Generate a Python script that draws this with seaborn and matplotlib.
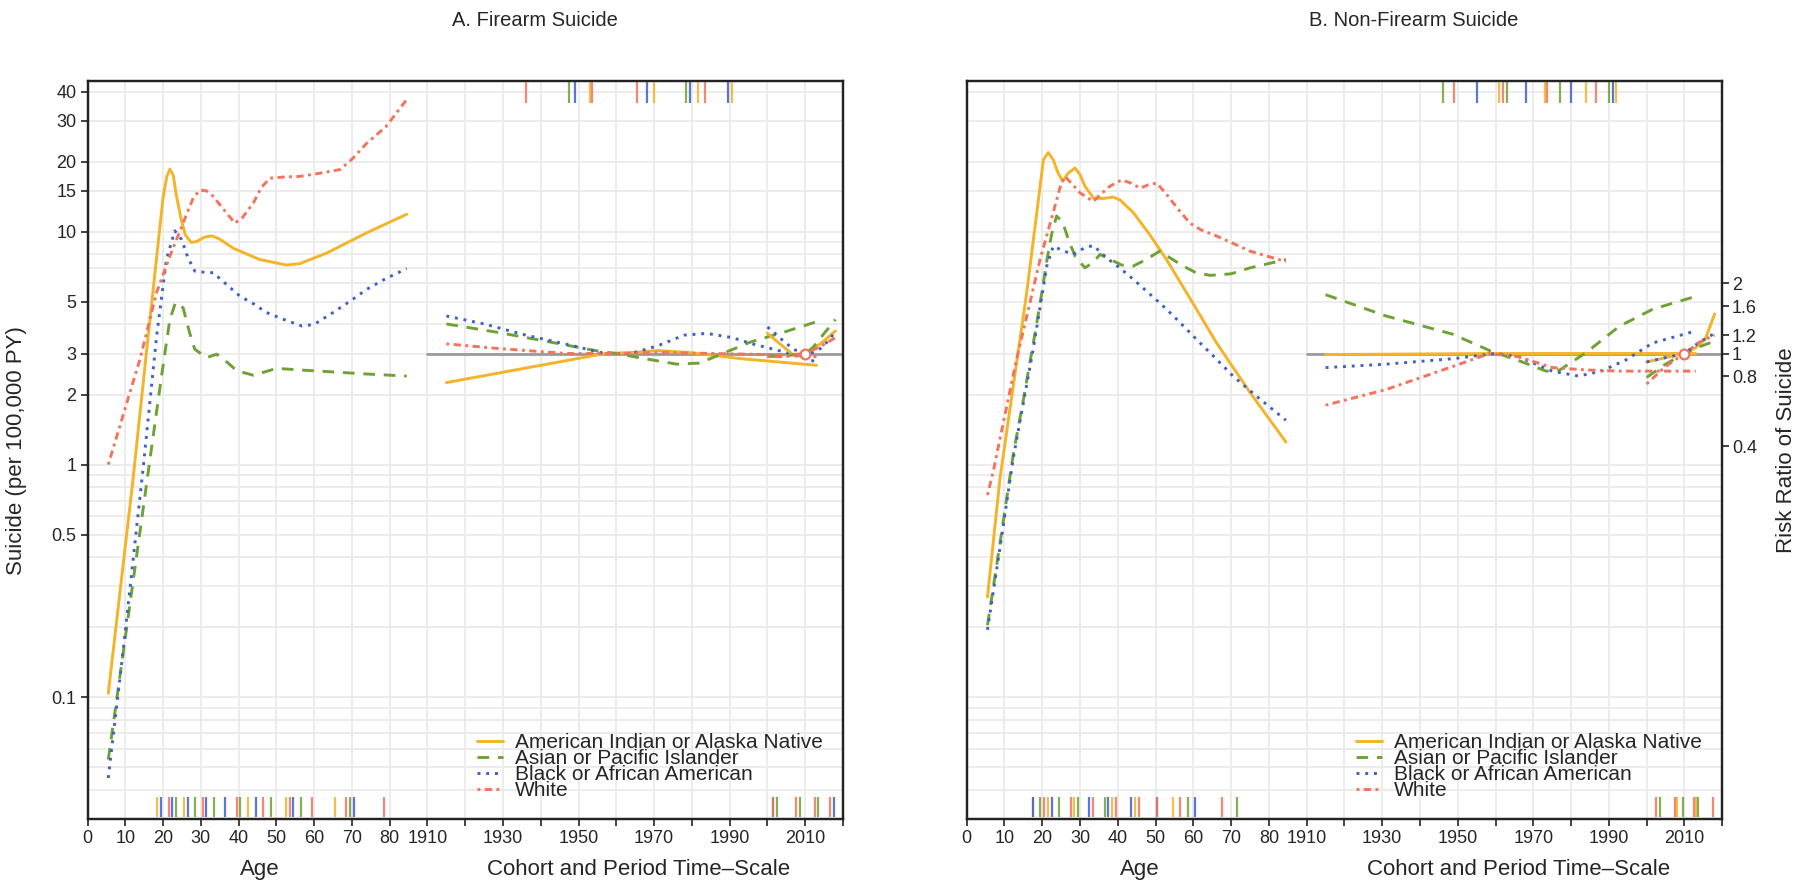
import numpy as np
import pandas as pd
import matplotlib
matplotlib.use("Agg")
import matplotlib.pyplot as plt
from matplotlib.lines import Line2D
from matplotlib.ticker import (FixedLocator, LogLocator, NullFormatter,
                               NullLocator, FuncFormatter)
import seaborn as sns

AIAN = "American Indian or Alaska Native"
API = "Asian or Pacific Islander"
BLACK = "Black or African American"
WHITE = "White"
GROUPS = [AIAN, API, BLACK, WHITE]

PALETTE = {AIAN: "#F4B328", API: "#6FA135", BLACK: "#3F5FC9", WHITE: "#F4735B"}
DASHES = {AIAN: "", API: (4, 3), BLACK: (1, 2), WHITE: (1, 1.5, 2.5, 1.5)}

# --- A. Firearm: age effect (rate per 100,000 PY) ---
firearm_age = {
    AIAN: ([5.5, 12, 16, 20, 21, 21.8, 22.7, 23.4, 24.8, 25.9, 27.5, 29, 31, 33, 35, 38.6, 45.6, 52.7, 56.2, 63.3, 73.9, 84.5],
           [0.104, 0.85, 3.5, 14.0, 17.3, 18.6, 17.5, 14.7, 11.3, 9.7, 9.0, 9.1, 9.5, 9.6, 9.3, 8.5, 7.6, 7.2, 7.3, 8.1, 9.9, 11.9]),
    API: ([5.5, 10, 15.7, 19.6, 21.8, 23.3, 25.3, 27, 28.4, 31.5, 34.2, 37, 39.5, 43.9, 50.1, 56.2, 65, 73.9, 84.5],
          [0.054, 0.18, 0.84, 2.4, 4.2, 4.97, 4.72, 3.7, 3.13, 2.88, 2.98, 2.75, 2.53, 2.42, 2.59, 2.55, 2.5, 2.45, 2.4]),
    BLACK: ([5.5, 9.5, 12, 14.8, 16.5, 18.3, 20.9, 23.1, 24.9, 26.5, 28.4, 31, 33.3, 36.5, 40.3, 44, 47.4, 52, 56.7, 60, 65, 70, 73.9, 79, 84.5],
            [0.045, 0.162, 0.38, 0.99, 1.85, 3.57, 7.6, 10.1, 9.27, 7.8, 6.78, 6.7, 6.67, 6.0, 5.3, 4.9, 4.5, 4.2, 3.94, 4.0, 4.5, 5.1, 5.66, 6.3, 6.95]),
    WHITE: ([5.5, 10, 13.9, 18.3, 21.8, 25.3, 28, 29.8, 31.5, 33.3, 36, 39, 41, 43.9, 46, 48.3, 52, 56.2, 61, 66.8, 70, 73.9, 79, 84.5],
            [1.0, 1.75, 2.84, 5.5, 7.85, 10.9, 14.0, 15.1, 15.0, 14.2, 12.5, 10.9, 11.5, 13.3, 15.5, 17.0, 17.2, 17.3, 17.8, 18.5, 20.5, 24.0, 28.3, 37.0]),
}
# cohort and period effects (risk ratio)
firearm_cohort = {
    AIAN: ([1915, 1957, 1964, 1971, 1979, 1986, 1993, 2013],
           [0.75, 1.0, 1.01, 1.03, 1.01, 0.98, 0.95, 0.89]),
    API: ([1915, 1929, 1942.5, 1955.7, 1960, 1966, 1976, 1982, 1987.5, 1995.5, 2004, 2013],
          [1.34, 1.23, 1.12, 1.02, 1.0, 0.96, 0.9, 0.91, 0.99, 1.12, 1.23, 1.37]),
    BLACK: ([1915, 1925, 1936, 1948.5, 1957, 1964, 1971, 1978, 1984, 1990.7, 1996, 2004, 2013],
            [1.45, 1.34, 1.2, 1.08, 1.0, 1.0, 1.08, 1.2, 1.22, 1.17, 1.1, 1.02, 0.92]),
    WHITE: ([1915, 1929, 1947, 1960, 1973, 1986, 2000, 2013],
            [1.1, 1.05, 1.0, 1.0, 1.01, 1.0, 0.99, 0.97]),
}
firearm_period = {
    AIAN: ([2000, 2006.7, 2010, 2014, 2018], [1.22, 0.99, 1.0, 1.1, 1.25]),
    API: ([2000, 2005, 2010, 2012, 2015, 2018], [0.97, 0.98, 1.0, 1.06, 1.22, 1.4]),
    BLACK: ([2000, 2002, 2004, 2007, 2010, 2012, 2014, 2016, 2018],
            [1.3, 1.22, 1.14, 1.04, 1.0, 1.01, 1.05, 1.13, 1.24]),
    WHITE: ([2000, 2005, 2010, 2014, 2018], [0.97, 0.97, 1.0, 1.07, 1.17]),
}

# --- B. Non-firearm ---
nonfirearm_age = {
    AIAN: ([5.5, 8.8, 12, 15.9, 18.5, 20.3, 21.6, 22.9, 24.2, 25.4, 26.9, 28.7, 30, 31.3, 33.5, 36, 38.8, 40.6, 44.1, 48.5, 52.9, 60, 66.1, 75, 84.5],
           [0.27, 0.87, 2.0, 5.5, 11.9, 20.4, 21.9, 20.4, 17.9, 16.5, 17.9, 18.8, 17.6, 15.7, 14.0, 13.9, 14.1, 13.7, 12.1, 9.7, 7.6, 4.9, 3.34, 2.04, 1.25]),
    API: ([5.5, 9, 12.3, 15, 17.6, 19.5, 21.2, 22.5, 23.8, 25.4, 27, 28.7, 31.3, 33.5, 35.3, 38.8, 41, 44.1, 47.5, 51.1, 54, 57.3, 60.5, 64.4, 70, 75, 84.5],
          [0.204, 0.48, 1.1, 1.9, 3.3, 5.0, 7.5, 9.8, 11.7, 11.0, 9.2, 7.85, 7.0, 7.4, 8.0, 7.5, 7.2, 7.13, 7.6, 8.26, 7.7, 7.13, 6.7, 6.5, 6.6, 7.0, 7.6]),
    BLACK: ([5.5, 9, 12.3, 15, 17.6, 19.5, 21.2, 22.9, 25.5, 28.2, 31, 33.5, 37, 40.5, 44.1, 48.5, 52.9, 57.3, 61.7, 66, 70.5, 77, 84.5],
            [0.195, 0.46, 1.06, 1.84, 3.13, 4.83, 7.13, 8.67, 8.3, 8.0, 8.5, 8.74, 7.74, 7.0, 6.25, 5.4, 4.65, 3.95, 3.34, 2.85, 2.4, 1.95, 1.55]),
    WHITE: ([5.5, 7, 10, 13.2, 16, 19.4, 22.9, 24.7, 26, 28, 30, 33.5, 35.5, 37.9, 41, 43.5, 45.9, 48, 50.3, 52.9, 56, 59.1, 62, 66.1, 70, 75, 84.5],
            [0.74, 0.93, 1.6, 2.84, 4.4, 7.6, 12.1, 15.5, 17.3, 16.0, 14.7, 13.5, 14.5, 15.7, 16.7, 16.2, 15.4, 15.9, 16.2, 14.5, 12.5, 10.9, 10.2, 9.6, 9.0, 8.26, 7.45]),
}
nonfirearm_cohort = {
    AIAN: ([1915, 1960, 2013], [0.99, 1.0, 1.0]),
    API: ([1915, 1931, 1948.7, 1958.4, 1966.3, 1973.4, 1977, 1984, 1992.8, 2001.6, 2013],
          [1.79, 1.45, 1.21, 1.03, 0.93, 0.84, 0.85, 1.01, 1.31, 1.55, 1.76]),
    BLACK: ([1915, 1931, 1948.7, 1960, 1966, 1975, 1982, 1988, 1994.6, 2001.6, 2013],
            [0.87, 0.9, 0.95, 1.0, 0.97, 0.84, 0.8, 0.84, 0.94, 1.11, 1.25]),
    WHITE: ([1915, 1931, 1948.7, 1958.4, 1966, 1975, 1984, 1993, 2013],
            [0.6, 0.7, 0.88, 1.0, 0.97, 0.87, 0.85, 0.84, 0.84]),
}
nonfirearm_period = {
    AIAN: ([2000, 2005, 2010, 2013, 2015.5, 2018], [0.92, 0.96, 1.0, 1.06, 1.15, 1.48]),
    API: ([2000, 2005, 2010, 2014, 2018], [0.79, 0.9, 1.0, 1.07, 1.13]),
    BLACK: ([2000, 2005, 2010, 2014, 2018], [0.92, 0.96, 1.0, 1.12, 1.22]),
    WHITE: ([2000, 2005, 2010, 2014, 2018], [0.74, 0.88, 1.0, 1.12, 1.2]),
}

# spline knots (rug marks)
firearm_knots_age = {
    AIAN: [18.5, 25.5, 42.5, 52.5, 65.5],
    API: [23.5, 28.5, 33.5, 40.5, 48.5, 56.5, 69.5],
    BLACK: [19.5, 22.5, 26.5, 31.5, 36.5, 44.5, 54.5, 70.5],
    WHITE: [21.5, 30.5, 39.5, 46.5, 53.5, 59.5, 68.5, 78.5],
}
firearm_knots_cohort = {
    AIAN: [1953, 1970, 1981.5, 1990.5],
    API: [1947.5, 1978.5],
    BLACK: [1949, 1968, 1979.5, 1989.5],
    WHITE: [1936, 1953.5, 1965.5, 1983.5],
}
firearm_knots_period = {
    AIAN: [],
    API: [2002.5, 2008.5, 2013.5],
    BLACK: [2001.5, 2017.5],
    WHITE: [2001.5, 2007.5, 2012.5, 2016.5],
}
nonfirearm_knots_age = {
    AIAN: [17.5, 21.5, 28.5, 38.5, 44.5, 54.5],
    API: [19.5, 24.5, 29.5, 36.5, 58.5, 71.5],
    BLACK: [17.5, 22.5, 32.5, 37.5, 43.5, 50.5, 60.5],
    WHITE: [20.5, 27.5, 33.5, 39.5, 45.5, 50.5, 56.5, 67.5],
}
nonfirearm_knots_cohort = {
    AIAN: [1961, 1973, 1984, 1992],
    API: [1946, 1963, 1977, 1990],
    BLACK: [1955, 1968, 1980, 1991],
    WHITE: [1949, 1962, 1973.5, 1986.5],
}
nonfirearm_knots_period = {
    AIAN: [2008, 2013],
    API: [2003.5, 2009.5, 2013.5],
    BLACK: [],
    WHITE: [2002.5, 2007.5, 2012.5, 2017.5],
}

RATE_TICKS = [0.1, 0.5, 1, 2, 3, 5, 10, 15, 20, 30, 40]
RR_TICKS = [0.4, 0.8, 1, 1.2, 1.6, 2]
PERIOD_REF = 2010
RR_REF = 3.0            # RR = 1 sits at rate 3 on the left axis
CP_SHIFT = 1820         # calendar year 1910 drawn at x = 90
Y_MIN, Y_MAX = 0.030, 44.6
LW = 2.1

sns.set_theme(style="white")
plt.rcParams["font.family"] = ["Liberation Sans", "DejaVu Sans"]

W, H = 1800, 889
fig = plt.figure(figsize=(W / 100, H / 100), dpi=100)
PANELS = [(87.5, "A. Firearm Suicide"), (966.7, "B. Non-Firearm Suicide")]
AX_W, AX_TOP, AX_BOT = 755.5, 80.7, 819.0


def to_frame(curves, shift=0):
    rows = []
    for g, (xs, ys) in curves.items():
        for x, y in zip(xs, ys):
            rows.append((g, x - shift, y))
    return pd.DataFrame(rows, columns=["group", "x", "y"])


def draw_lines(df, ax):
    sns.lineplot(data=df, x="x", y="y", hue="group", style="group",
                 hue_order=GROUPS, style_order=GROUPS, palette=PALETTE,
                 dashes=DASHES, estimator=None, sort=False, lw=LW,
                 legend=False, ax=ax)


def draw_rug(ax, knots, shift, y0, y1):
    for g in GROUPS:
        xs = np.asarray(knots.get(g, []), dtype=float) - shift
        if len(xs):
            ax.vlines(xs, y0, y1, transform=ax.get_xaxis_transform(),
                      colors=PALETTE[g], lw=1.6, alpha=0.85)


def legend_handle(g):
    line = Line2D([], [], color=PALETTE[g], lw=LW)
    if DASHES[g]:
        line.set_dashes(DASHES[g])
    return line


def draw_panel(idx, age, cohort, period, k_age, k_cohort, k_period):
    left, title = PANELS[idx]
    ax = fig.add_axes([left / W, 1 - AX_BOT / H, AX_W / W, (AX_BOT - AX_TOP) / H])
    ax.set_yscale("log")
    ax2 = ax.twinx()
    ax2.set_yscale("log")

    draw_lines(to_frame(age), ax)
    ax2.axhline(1, xmin=90 / 200, xmax=1, color="#9a9a9a", lw=2)
    draw_lines(to_frame(cohort, CP_SHIFT), ax2)
    draw_lines(to_frame(period, CP_SHIFT), ax2)
    ax2.plot(PERIOD_REF - CP_SHIFT, 1, marker="o", ms=7, mfc="white",
             mec=PALETTE[WHITE], mew=1.6, ls="none")

    draw_rug(ax2, k_age, 0, 0.003, 0.03)
    draw_rug(ax2, k_period, CP_SHIFT, 0.003, 0.03)
    draw_rug(ax2, k_cohort, CP_SHIFT, 0.97, 1.0)

    ax.set_xlim(0, 200)
    ax.set_ylim(Y_MIN, Y_MAX)
    ax2.set_ylim(Y_MIN / RR_REF, Y_MAX / RR_REF)

    # x axis: age 0-80, then cohort/period years
    xt = np.arange(0, 201, 10)
    xl = []
    for v in xt:
        if v <= 80:
            xl.append(str(v))
        elif (v - 90) % 20 == 0:
            xl.append(str(v + CP_SHIFT))
        else:
            xl.append("")
    ax.set_xticks(xt)
    ax.set_xticklabels(xl)

    ax.yaxis.set_major_locator(FixedLocator(RATE_TICKS))
    ax.yaxis.set_major_formatter(FuncFormatter(lambda v, p: f"{v:g}"))
    ax.yaxis.set_minor_locator(LogLocator(base=10, subs=np.arange(1, 10)))
    ax.yaxis.set_minor_formatter(NullFormatter())
    ax.tick_params(axis="y", which="minor", length=0)
    ax.tick_params(axis="both", which="major", direction="out", length=5,
                   width=1.2, color="#222222", labelsize=13, pad=3,
                   bottom=True, left=True)
    ax.grid(True, which="both", color="#ebebeb", lw=1.3)
    ax.set_axisbelow(True)

    ax2.grid(False)
    ax2.yaxis.set_minor_locator(NullLocator())
    if idx == 0:
        ax2.yaxis.set_major_locator(NullLocator())
        ax2.tick_params(right=False, labelright=False)
    else:
        ax.tick_params(axis="y", which="both", left=False, labelleft=False)
        ax2.yaxis.set_major_locator(FixedLocator(RR_TICKS))
        ax2.yaxis.set_major_formatter(FuncFormatter(lambda v, p: f"{v:g}"))
        ax2.tick_params(axis="y", which="major", direction="out", length=5,
                        width=1.2, color="#222222", labelsize=13, pad=2,
                        right=True)

    for a in (ax, ax2):
        a.set_xlabel("")
        a.set_ylabel("")
        for s in a.spines.values():
            s.set_visible(True)
            s.set_color("#222222")
            s.set_linewidth(1.6)

    xt_tr = ax.get_xaxis_transform()
    ax.text(45.7, -0.069, "Age", transform=xt_tr, ha="center", va="center",
            fontsize=16)
    ax.text(146, -0.069, "Cohort and Period Time\u2013Scale", transform=xt_tr,
            ha="center", va="center", fontsize=16)
    fig.text((left + 0.592 * AX_W) / W, 1 - 20.7 / H, title,
             ha="center", va="center", fontsize=14.5)

    ax2.legend(handles=[legend_handle(g) for g in GROUPS], labels=GROUPS,
               loc="lower left", bbox_to_anchor=(0.515, 0.026), frameon=False,
               fontsize=15, handlelength=1.25, handletextpad=0.6,
               labelspacing=-0.15, borderpad=0, borderaxespad=0)
    return ax, ax2


draw_panel(0, firearm_age, firearm_cohort, firearm_period,
           firearm_knots_age, firearm_knots_cohort, firearm_knots_period)
draw_panel(1, nonfirearm_age, nonfirearm_cohort, nonfirearm_period,
           nonfirearm_knots_age, nonfirearm_knots_cohort, nonfirearm_knots_period)

fig.text(17 / W, 1 - 451 / H, "Suicide (per 100,000 PY)", rotation=90,
         ha="center", va="center", fontsize=16)
fig.text(1787 / W, 1 - 450 / H, "Risk Ratio of Suicide", rotation=90,
         ha="center", va="center", fontsize=16)

fig.savefig("out.png", dpi=100)
